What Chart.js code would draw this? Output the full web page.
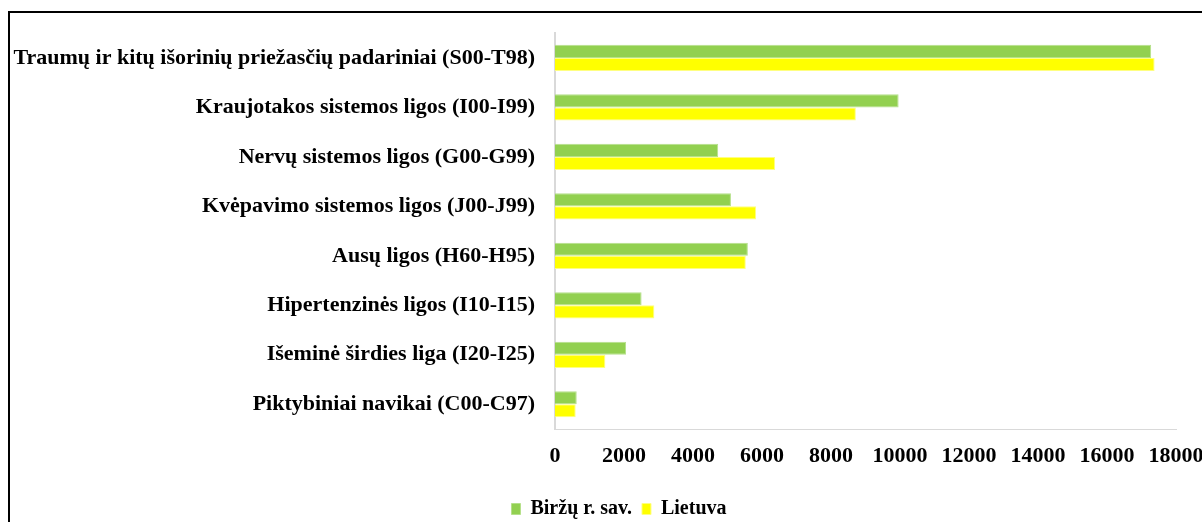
<!DOCTYPE html>
<html>
<head>
<meta charset="utf-8">
<script src="https://cdn.jsdelivr.net/npm/chart.js@4.4.1/dist/chart.umd.min.js"></script>
<style>
  html, body { margin: 0; padding: 0; background: #fff; overflow: hidden; }
  #frame { position: absolute; left: 8px; top: 11px; width: 1400px; height: 700px; border: 2px solid #000; border-right: none; border-bottom: none; }
  #chart { position: absolute; left: 0; top: 0; }
</style>
</head>
<body>
<div id="frame"></div>
<canvas id="chart" width="1202" height="522"></canvas>
<script>
// --- DATOS ---
const categorias = [
  "Traumų ir kitų išorinių priežasčių padariniai (S00-T98)",
  "Kraujotakos sistemos ligos (I00-I99)",
  "Nervų sistemos ligos (G00-G99)",
  "Kvėpavimo sistemos ligos (J00-J99)",
  "Ausų ligos (H60-H95)",
  "Hipertenzinės ligos (I10-I15)",
  "Išeminė širdies liga (I20-I25)",
  "Piktybiniai navikai (C00-C97)"
];
const birzai = [17280, 9960, 4730, 5100, 5590, 2510, 2060, 630];
const lietuva = [17380, 8720, 6380, 5830, 5530, 2880, 1460, 600];
const xTicks = [0, 2000, 4000, 6000, 8000, 10000, 12000, 14000, 16000, 18000];

const serif = "'Liberation Serif', 'Times New Roman', serif";

// legenda šiek tiek dešiniau, kaip originale
const legendShift = {
  id: "legendShift",
  afterLayout(chart) {
    chart.legend.left += 18;
    chart.legend.right += 18;
  }
};

new Chart(document.getElementById("chart"), {
  type: "bar",
  data: {
    labels: categorias,
    datasets: [
      { label: "Biržų r. sav.", data: birzai, backgroundColor: "#92D050", borderColor: "#b5e08a", borderWidth: 1 },
      { label: "Lietuva", data: lietuva, backgroundColor: "#FFFF00", borderColor: "#ffff80", borderWidth: 1 }
    ]
  },
  plugins: [legendShift],
  options: {
    indexAxis: "y",
    responsive: false,
    animation: false,
    maintainAspectRatio: false,
    devicePixelRatio: 1,
    layout: { padding: { top: 32, left: 0, right: 0, bottom: -7 } },
    datasets: { bar: { categoryPercentage: 0.53, barPercentage: 1 } },
    scales: {
      x: {
        min: 0, max: 18000,
        afterBuildTicks: s => { s.ticks = xTicks.map(v => ({ value: v })); },
        afterFit: s => { s.height = 60; s.paddingRight = 26; },
        grid: { display: false, drawTicks: false },
        border: { color: "#d9d9d9", width: 1 },
        ticks: {
          color: "#000", padding: 14, maxRotation: 0,
          callback: v => String(v),
          font: { family: serif, weight: "bold", size: 22 }
        }
      },
      y: {
        grid: { display: false, drawTicks: false },
        border: { color: "#d9d9d9", width: 2 },
        afterFit: s => { s.width = 555; },
        ticks: { color: "#000", padding: 20, font: { family: serif, weight: "bold", size: 22 } }
      }
    },
    plugins: {
      legend: {
        position: "bottom",
        labels: {
          color: "#000",
          boxWidth: 9, boxHeight: 11,
          padding: 10,
          font: { family: serif, weight: "bold", size: 20 }
        }
      },
      tooltip: { enabled: false }
    }
  }
});
</script>
</body>
</html>
